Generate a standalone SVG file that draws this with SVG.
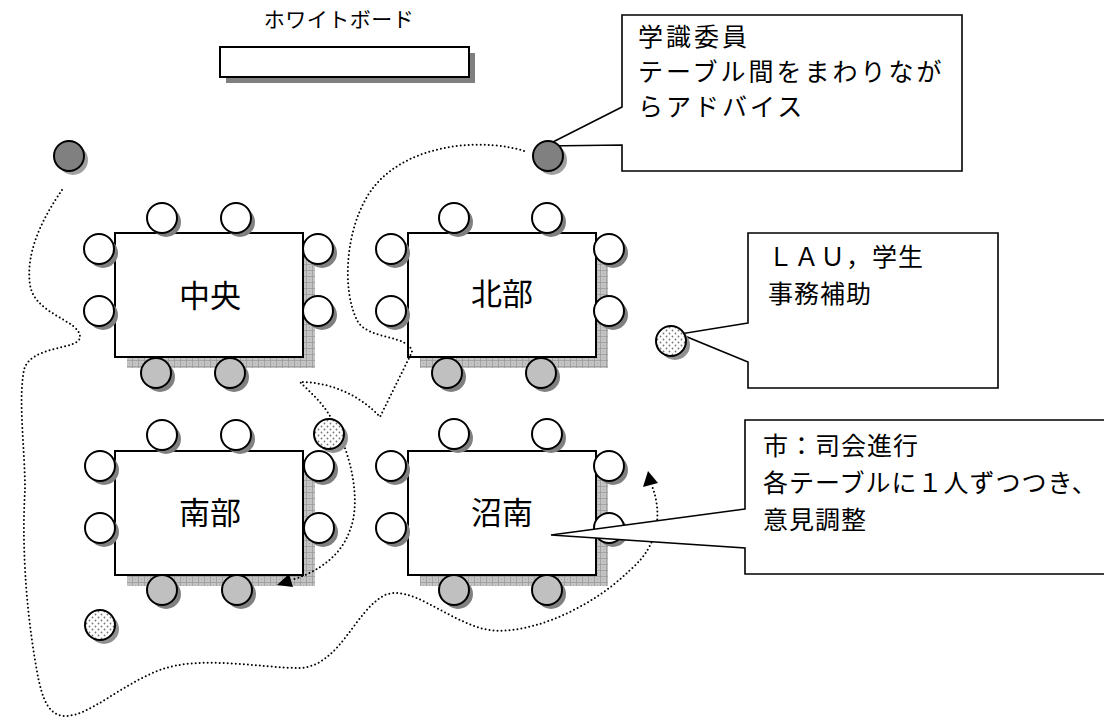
<svg xmlns="http://www.w3.org/2000/svg" xmlns:xlink="http://www.w3.org/1999/xlink" width="1104" height="720" viewBox="0 0 1104 720">
<style>
text{font-family:"Noto Sans CJK JP","Noto Sans",sans-serif;fill:#000}
.tbl{fill:#fff;stroke:#000;stroke-width:2}
.tsh{fill:url(#hatch)}
.lbl{font-size:31px;font-weight:400;text-anchor:middle}
.co{fill:#fff;stroke:#000;stroke-width:1.6;stroke-linejoin:miter}
.c1{font-size:25px;letter-spacing:3px}
.c2{font-size:25px;letter-spacing:1px}
.dot{fill:none;stroke:#000;stroke-width:2;stroke-dasharray:0 4;stroke-linecap:round}
.ah{fill:#000}
</style>
<defs>
<pattern id="hatch" width="6" height="6" patternUnits="userSpaceOnUse">
<rect width="6" height="6" fill="#c4c4c4"/>
<path d="M0 0.5H6M0.5 0V6" stroke="#9a9a9a" stroke-width="0.8"/>
<rect x="3" y="3" width="1" height="1" fill="#a8a8a8"/>
</pattern>
<pattern id="dots" width="6" height="6" patternUnits="userSpaceOnUse">
<rect width="6" height="6" fill="#fff"/>
<circle cx="1.5" cy="1.5" r="0.9" fill="#777"/>
<circle cx="4.5" cy="4.5" r="0.9" fill="#777"/>
</pattern>
<g id="cw"><circle cx="4" cy="4" r="15" fill="#808080"/><circle r="15" fill="#fff" stroke="#000" stroke-width="2"/></g>
<g id="cg"><circle cx="4" cy="4" r="15" fill="#808080"/><circle r="15" fill="#c0c0c0" stroke="#000" stroke-width="2"/></g>
<g id="cd"><circle cx="4" cy="4" r="15" fill="#a0a0a0"/><circle r="15" fill="#808080" stroke="#000" stroke-width="2"/></g>
<g id="cp"><circle cx="4" cy="4" r="15" fill="#909090"/><circle r="15" fill="url(#dots)" stroke="#000" stroke-width="2"/></g>
</defs>
<rect width="1104" height="720" fill="#fff"/>

<g id="whiteboard">
<text x="339" y="27" style="font-size:21px;letter-spacing:0.5px" text-anchor="middle">ホワイトボード</text>
<rect x="226" y="53" width="249" height="30" fill="#808080"/>
<rect x="220" y="47" width="249" height="30" fill="#fff" stroke="#000" stroke-width="2"/>
</g>

<g id="table-chuo">
<rect class="tsh" x="127" y="244" width="188" height="124"/>
<rect class="tbl" x="115" y="233" width="188" height="124"/>
<text class="lbl" x="210" y="307">中央</text>
<use href="#cw" x="162" y="218"/><use href="#cw" x="236" y="218"/>
<use href="#cw" x="99" y="249"/><use href="#cw" x="99" y="311"/>
<use href="#cw" x="318" y="249"/><use href="#cw" x="318" y="311"/>
<use href="#cg" x="156" y="373"/><use href="#cg" x="230" y="373"/>
</g>

<g id="table-hokubu">
<rect class="tsh" x="420" y="244" width="188" height="124"/>
<rect class="tbl" x="408" y="233" width="188" height="124"/>
<text class="lbl" x="502" y="305">北部</text>
<use href="#cw" x="454" y="218"/><use href="#cw" x="547" y="218"/>
<use href="#cw" x="391" y="249"/><use href="#cw" x="391" y="311"/>
<use href="#cw" x="609" y="249"/><use href="#cw" x="609" y="311"/>
<use href="#cg" x="447" y="373"/><use href="#cg" x="541" y="373"/>
</g>

<g id="table-nanbu">
<rect class="tsh" x="127" y="462" width="188" height="124"/>
<rect class="tbl" x="115" y="451" width="188" height="124"/>
<text class="lbl" x="210" y="524">南部</text>
<use href="#cw" x="162" y="435"/><use href="#cw" x="236" y="435"/>
<use href="#cw" x="100" y="466"/><use href="#cw" x="100" y="528"/>
<use href="#cw" x="319" y="466"/><use href="#cw" x="319" y="528"/>
<use href="#cg" x="162" y="590"/><use href="#cg" x="237" y="590"/>
</g>

<g id="table-shonan">
<rect class="tsh" x="420" y="462" width="188" height="124"/>
<rect class="tbl" x="408" y="451" width="188" height="124"/>
<text class="lbl" x="502" y="524">沼南</text>
<use href="#cw" x="454" y="434"/><use href="#cw" x="547" y="434"/>
<use href="#cw" x="391" y="466"/><use href="#cw" x="391" y="528"/>
<use href="#cw" x="609" y="466"/><use href="#cw" x="609" y="528"/>
<use href="#cg" x="454" y="590"/><use href="#cg" x="547" y="590"/>
</g>

<g id="connectors">
<path class="dot" d="M62,190 C45,215 25,250 30,285 C35,315 80,320 80,337 C80,350 30,345 24,370 C18,400 25,450 25,490 C22,540 25,600 35,660 C40,690 45,716 65,716 C90,716 120,685 160,670 C200,655 260,668 300,668 C340,666 355,610 385,595 C410,585 440,615 480,628 C520,640 590,610 630,570 C660,545 662,512 652,486"/>
<polygon class="ah" points="648,471 643,487 658,483"/>
<path class="dot" d="M524,151 C490,140 420,140 380,180 C345,215 340,290 358,322 C370,340 410,335 412,352 L380,417 C360,395 330,382 300,382 C310,392 325,405 332,420 C350,450 362,500 350,530 C340,560 310,575 291,580"/>
<polygon class="ah" points="277,585 293,587 289,574"/>
</g>

<g id="callout-gakushiki">
<path class="co" d="M622,107 L545,146 L622,145 V171 H962 V15 H622 Z"/>
<text class="c1" x="638" y="46">学識委員</text>
<text class="c1" x="638" y="81">テーブル間をまわりなが</text>
<text class="c1" x="638" y="116">らアドバイス</text>
</g>

<g id="callout-lau">
<path class="co" d="M748,323 L680,334 L748,362 V388 H998 V233 H748 Z"/>
<text class="c2" x="768" y="266">ＬＡＵ，学生</text>
<text class="c2" x="768" y="303">事務補助</text>
</g>

<g id="person-gakushiki-1"><use href="#cd" x="69" y="156"/></g>
<g id="person-gakushiki-2"><use href="#cd" x="548" y="156"/></g>
<g id="person-lau-1"><use href="#cp" x="671" y="341"/></g>
<g id="person-lau-2"><use href="#cp" x="329" y="434"/></g>
<g id="person-lau-3"><use href="#cp" x="100" y="625"/></g>

<g id="callout-shi">
<path class="co" d="M745,509 L551,535 L745,548 V574 H1110 V420 H745 Z"/>
<text class="c2" x="763" y="455">市：司会進行</text>
<text class="c2" x="763" y="492">各テーブルに１人ずつつき、</text>
<text class="c2" x="763" y="529">意見調整</text>
</g>
</svg>
